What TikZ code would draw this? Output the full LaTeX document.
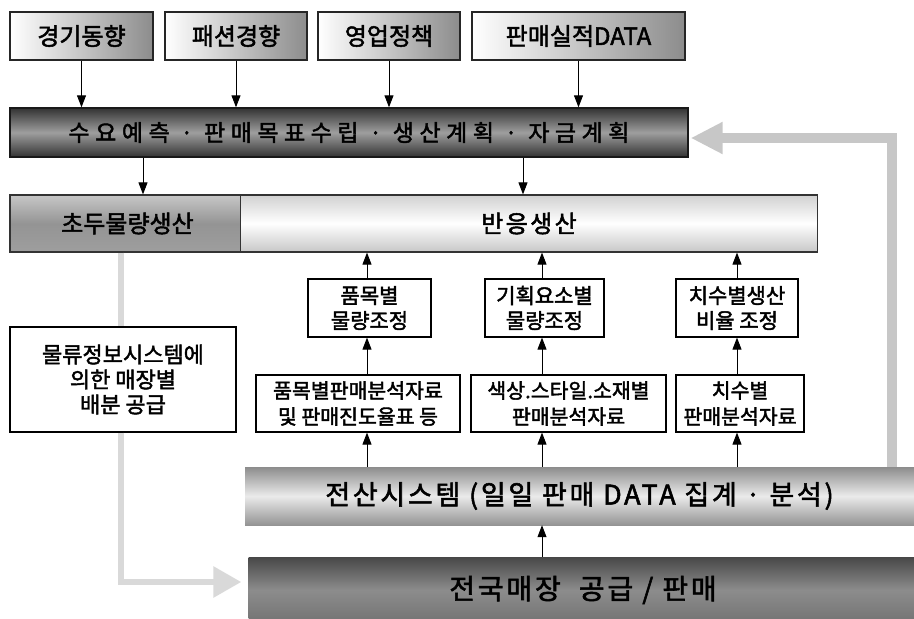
\documentclass[tikz,border=0pt]{standalone}
\usepackage{fontspec}
\setmainfont{Noto Sans CJK KR}[FakeBold=2]
\newfontfamily\spacedfont{Noto Sans CJK KR}[LetterSpace=24,FakeBold=2]
\newfontfamily\widefont{Noto Sans CJK KR}[LetterSpace=10,FakeBold=2]
\usetikzlibrary{arrows.meta}
\begin{document}
\begin{tikzpicture}[x=1pt,y=-1pt,
  topbox/.style={draw=black!85, line width=1.4pt, left color=white, right color=black!45,
    minimum height=48pt, inner sep=0pt, font=\fontsize{24}{26}\selectfont},
  plainbox/.style={draw=black, line width=1.2pt, fill=white, inner sep=0pt, align=center},
  midbox/.style={plainbox, minimum height=58pt, font=\fontsize{21}{25}\selectfont},
  lowbox/.style={plainbox, minimum height=57pt, font=\fontsize{20.5}{26}\selectfont},
  arr/.style={draw=black, line width=0.9pt, -{Triangle[width=9pt,length=12pt]}},
  greyarr/.style={draw=black!22, line width=10pt, -{Triangle[width=30pt,length=32pt]}},
  dotline/.style={draw=black!15, line width=6pt},
  dotarr/.style={draw=black!15, line width=6pt, -{Triangle[width=30pt,length=28pt]}}
]
\useasboundingbox (0,0) rectangle (914,619);

% top row
\node[topbox, minimum width=143pt] (t1) at (81.5,36) {경기동향};
\node[topbox, minimum width=142pt] (t2) at (236,36) {패션경향};
\node[topbox, minimum width=142pt] (t3) at (389,36) {영업정책};
\node[topbox, minimum width=213pt] (t4) at (578.5,36) {판매실적DATA};

% planning bar
\node[draw=black!90, line width=1.4pt, top color=black!80, bottom color=black!80, middle color=black!38,
  minimum width=678pt, minimum height=49pt, inner sep=0pt,
  font=\spacedfont\fontsize{23}{24}\selectfont] (P) at (349,132.5) {수요예측 · 판매목표수립 · 생산계획 · 자금계획};

% production bars
\node[draw=black!80, line width=1.2pt, top color=black!22, bottom color=black!38, middle color=black!42,
  minimum width=235pt, minimum height=57pt, inner sep=0pt,
  font=\fontsize{24}{26}\selectfont] (I) at (127.5,223.5) {초두물량생산};
\node[draw=black!80, line width=1.2pt, top color=black!18, bottom color=black!22, middle color=white,
  minimum width=577pt, minimum height=57pt, inner sep=0pt,
  font=\widefont\fontsize{24}{26}\selectfont] (R) at (529,223.5) {반응생산};

% middle boxes
\node[midbox, minimum width=123pt] (M1) at (369.5,308) {품목별\\물량조정};
\node[midbox, minimum width=119pt] (M2) at (544.5,308) {기획요소별\\물량조정};
\node[midbox, minimum width=122pt] (M3) at (737,308) {치수별생산\\비율 조정};

% lower boxes
\node[lowbox, minimum width=204pt] (L1) at (358,403.5) {품목별판매분석자료\\및 판매진도율표 등};
\node[lowbox, minimum width=195pt] (L2) at (568.5,403.5) {색상.스타일.소재별\\판매분석자료};
\node[lowbox, minimum width=128pt] (L3) at (740,403.5) {치수별\\판매분석자료};

% left box
\node[plainbox, minimum width=226pt, minimum height=105pt,
  font=\fontsize{22}{25}\selectfont] (LB) at (123,379.5) {물류정보시스템에\\의한 매장별\\배분 공급};

% system bars
\node[top color=black!45, bottom color=black!42, middle color=black!8,
  minimum width=669pt, minimum height=58pt, inner sep=0pt,
  font=\widefont\fontsize{27}{28}\selectfont] (S) at (579.5,496) {전산시스템 (일일 판매 DATA 집계 · 분석)};
\node[top color=black!72, bottom color=black!55, middle color=black!45,
  minimum width=669pt, minimum height=66pt, inner sep=0pt,
  font=\widefont\fontsize{28}{30}\selectfont] (N) at (583,590) {전국매장\ \ 공급 / 판매};

% helper coordinates
\coordinate (a1) at (143,0);
\coordinate (a2) at (523,0);
\coordinate (c1) at (367,0);
\coordinate (c2) at (542,0);
\coordinate (c3) at (737,0);
\coordinate (fb) at (892,0);
\coordinate (fy) at (0,138);
\coordinate (lx) at (121,0);
\coordinate (ly) at (0,582);

% black arrows
\draw[arr] (t1.south) -- (t1.south |- P.north);
\draw[arr] (t2.south) -- (t2.south |- P.north);
\draw[arr] (t3.south) -- (t3.south |- P.north);
\draw[arr] (t4.south) -- (t4.south |- P.north);
\draw[arr] (P.south -| a1) -- (I.north -| a1);
\draw[arr] (P.south -| a2) -- (R.north -| a2);
\draw[arr] (M1.north -| c1) -- (R.south -| c1);
\draw[arr] (M2.north -| c2) -- (R.south -| c2);
\draw[arr] (M3.north -| c3) -- (R.south -| c3);
\draw[arr] (L1.north -| c1) -- (M1.south -| c1);
\draw[arr] (L2.north -| c2) -- (M2.south -| c2);
\draw[arr] (L3.north -| c3) -- (M3.south -| c3);
\draw[arr] (S.north -| c1) -- (L1.south -| c1);
\draw[arr] (S.north -| c2) -- (L2.south -| c2);
\draw[arr] (S.north -| c3) -- (L3.south -| c3);
\draw[arr] (N.north -| c2) -- (S.south -| c2);

% grey feedback arrow
\draw[greyarr, shorten >=2pt] (S.north -| fb) -- (fb |- fy) -- (P.east |- fy);

% grey dotted distribution arrow
\draw[dotline] (I.south -| lx) -- (LB.north -| lx);
\draw[dotarr, shorten >=7pt] (LB.south -| lx) -- (lx |- ly) -- (N.west |- ly);
\end{tikzpicture}
\end{document}
